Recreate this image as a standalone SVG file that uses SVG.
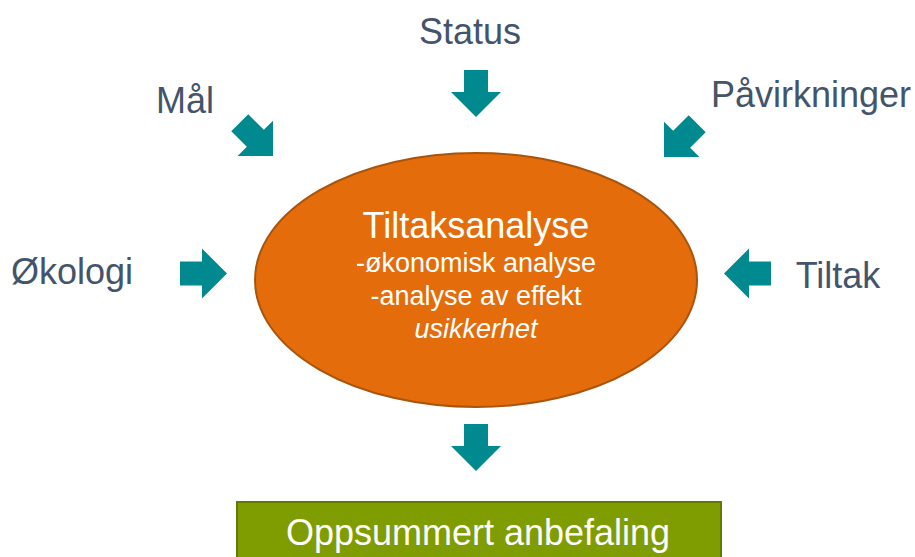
<svg xmlns="http://www.w3.org/2000/svg" width="915" height="557" viewBox="0 0 915 557">
<style>
.lbl{font-family:"Liberation Sans",Arial,sans-serif;font-size:36px;fill:#44546A;text-anchor:middle}
.w{font-family:"Liberation Sans",Arial,sans-serif;fill:#FFFFFF;text-anchor:middle}
.arr{fill:#008A90}
</style>
<defs>
<path id="arrow" d="M-47,-12 L-25,-12 L-25,-25 L0,0 L-25,25 L-25,12 L-47,12 Z"/>
</defs>
<rect width="915" height="557" fill="#FFFFFF"/>
<g id="connectors">
<use href="#arrow" class="arr" transform="translate(476,117) rotate(90)"/>
<use href="#arrow" class="arr" transform="translate(273,156) rotate(45)"/>
<use href="#arrow" class="arr" transform="translate(664,157) rotate(135)"/>
<use href="#arrow" class="arr" transform="translate(227,273.5)"/>
<use href="#arrow" class="arr" transform="translate(724,273.5) rotate(180)"/>
<use href="#arrow" class="arr" transform="translate(476,471) rotate(90)"/>
</g>
<g id="status"><text class="lbl" x="470" y="44">Status</text></g>
<g id="maal"><text class="lbl" x="185" y="113">Mål</text></g>
<g id="pavirkninger"><text class="lbl" x="811" y="107">Påvirkninger</text></g>
<g id="okologi"><text class="lbl" x="72" y="284">Økologi</text></g>
<g id="tiltak"><text class="lbl" x="838" y="288">Tiltak</text></g>
<g id="tiltaksanalyse">
<ellipse cx="476" cy="280" rx="221" ry="127" fill="#E46C0A" stroke="#A8540C" stroke-width="2"/>
<text class="w" x="476" y="238" font-size="36">Tiltaksanalyse</text>
<text class="w" x="476" y="272" font-size="27">-økonomisk analyse</text>
<text class="w" x="476" y="305" font-size="27">-analyse av effekt</text>
<text class="w" x="476" y="338" font-size="27" font-style="italic">usikkerhet</text>
</g>
<g id="anbefaling">
<rect x="237" y="502" width="484" height="60" fill="#7F9C00" stroke="#607A00" stroke-width="2"/>
<text class="w" x="478" y="545" font-size="36">Oppsummert anbefaling</text>
</g>
</svg>
